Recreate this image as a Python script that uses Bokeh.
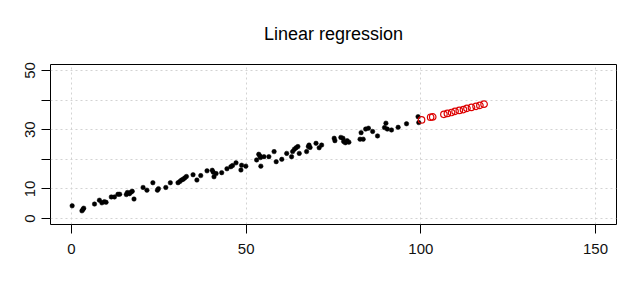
from bokeh.plotting import figure
from bokeh.models import Range1d, FixedTicker, ColumnDataSource
from bokeh.embed import file_html
from bokeh.resources import INLINE

title_text = "Linear regression"

obs_x = [0.2, 3.0, 3.3, 3.5, 6.6, 8.0, 8.7, 9.4, 9.9, 11.4, 12.3, 13.3, 13.8,
         15.7, 16.0, 16.6, 17.0, 17.4, 17.9, 20.5, 21.6, 23.3, 24.6, 24.9, 27.0,
         28.3, 30.5, 31.0, 31.5, 32.0, 32.4, 32.9, 34.8, 35.9, 37.0, 38.8, 40.3,
         40.6, 40.8, 41.4, 43.0, 44.5, 45.6, 46.1, 47.1, 48.5, 48.7, 49.9, 53.0,
         53.6, 53.9, 54.1, 54.2, 55.1, 56.5, 58.0, 58.6, 60.2, 61.6, 63.0, 63.3,
         63.8, 64.3, 64.8, 65.2, 67.3, 67.8, 68.0, 68.3, 70.0, 70.9, 71.6, 75.2,
         75.4, 77.1, 77.7, 77.9, 78.4, 78.9, 79.4, 82.6, 82.9, 83.5, 84.2, 85.0,
         86.2, 87.6, 89.6, 90.0, 90.4, 91.6, 93.5, 95.9, 99.2, 99.4]
obs_y = [4.3, 2.6, 3.1, 3.5, 4.9, 6.2, 5.3, 5.7, 5.5, 7.3, 7.3, 8.2, 8.2,
         8.1, 8.8, 8.4, 8.9, 9.2, 6.6, 10.5, 9.6, 12.1, 9.6, 10.1, 10.5,
         12.1, 12.1, 12.5, 13.0, 13.3, 13.7, 14.2, 14.8, 13.0, 14.5, 16.1, 16.3,
         15.6, 14.1, 15.2, 15.5, 16.8, 17.5, 17.9, 18.8, 16.4, 18.0, 17.7, 19.8,
         21.7, 21.2, 20.6, 17.7, 20.9, 20.9, 22.6, 19.2, 20.0, 22.0, 20.9, 22.6,
         23.4, 23.9, 24.3, 22.0, 22.6, 24.3, 24.8, 24.0, 25.4, 23.9, 24.8, 27.1,
         26.3, 27.4, 27.1, 26.0, 25.6, 26.3, 25.8, 26.8, 29.0, 26.8, 30.2, 30.5,
         29.4, 27.9, 30.7, 32.2, 30.2, 29.9, 30.8, 32.0, 34.4, 32.4]

pred_x = [100.2, 102.8, 103.4, 106.6, 107.6, 108.8, 109.8, 111.0, 112.2,
          113.2, 114.5, 115.8, 116.9, 118.1]
pred_y = [33.3, 34.2, 34.3, 35.2, 35.5, 35.8, 36.2, 36.5, 36.8,
          37.2, 37.5, 37.9, 38.2, 38.6]

x_ticks = [0, 50, 100, 150]
y_ticks = [0, 10, 20, 30, 40, 50]
y_tick_labels = {0: "0", 10: "10", 20: "", 30: "30", 40: "", 50: "50"}

FONT = "Liberation Sans"

p = figure(width=644, height=284, output_backend="svg", toolbar_location=None,
           x_range=Range1d(-6, 156), y_range=Range1d(-2, 52),
           min_border_left=50, min_border_right=28, min_border_top=64,
           min_border_bottom=60)
p.background_fill_color = "white"
p.border_fill_color = "white"
p.outline_line_color = "black"
p.outline_line_width = 1

p.title.text = title_text
p.title.align = "center"
p.title.text_font = FONT
p.title.text_font_size = "18px"
p.title.text_font_style = "normal"
p.title.text_color = "black"
p.title.standoff = 41

for ax in (p.xaxis[0], p.yaxis[0]):
    ax.axis_line_color = None
    ax.major_tick_line_color = "black"
    ax.major_tick_out = 9
    ax.major_tick_in = 0
    ax.minor_tick_line_color = None
    ax.major_label_text_font = FONT
    ax.major_label_text_font_size = "15px"
    ax.major_label_text_color = "#111111"

p.xaxis[0].ticker = FixedTicker(ticks=x_ticks)
p.xaxis[0].major_label_standoff = 10
p.yaxis[0].ticker = FixedTicker(ticks=y_ticks)
p.yaxis[0].major_label_overrides = y_tick_labels
p.yaxis[0].major_label_orientation = "vertical"
p.yaxis[0].major_label_standoff = 6

p.xgrid[0].ticker = FixedTicker(ticks=x_ticks)
p.ygrid[0].ticker = FixedTicker(ticks=y_ticks)
for g in (p.xgrid[0], p.ygrid[0]):
    g.grid_line_color = "#d3d3d3"
    g.grid_line_dash = "2 3"
    g.grid_line_width = 1

obs = ColumnDataSource(dict(x=obs_x, y=obs_y))
pred = ColumnDataSource(dict(x=pred_x, y=pred_y))
p.scatter("x", "y", source=obs, size=4.5, fill_color="black", line_color="black",
          line_width=0.5)
p.scatter("x", "y", source=pred, size=6.5, fill_color=None, line_color="#DD0000",
          line_width=1.2)

open("out.html", "w").write(file_html(p, INLINE))
